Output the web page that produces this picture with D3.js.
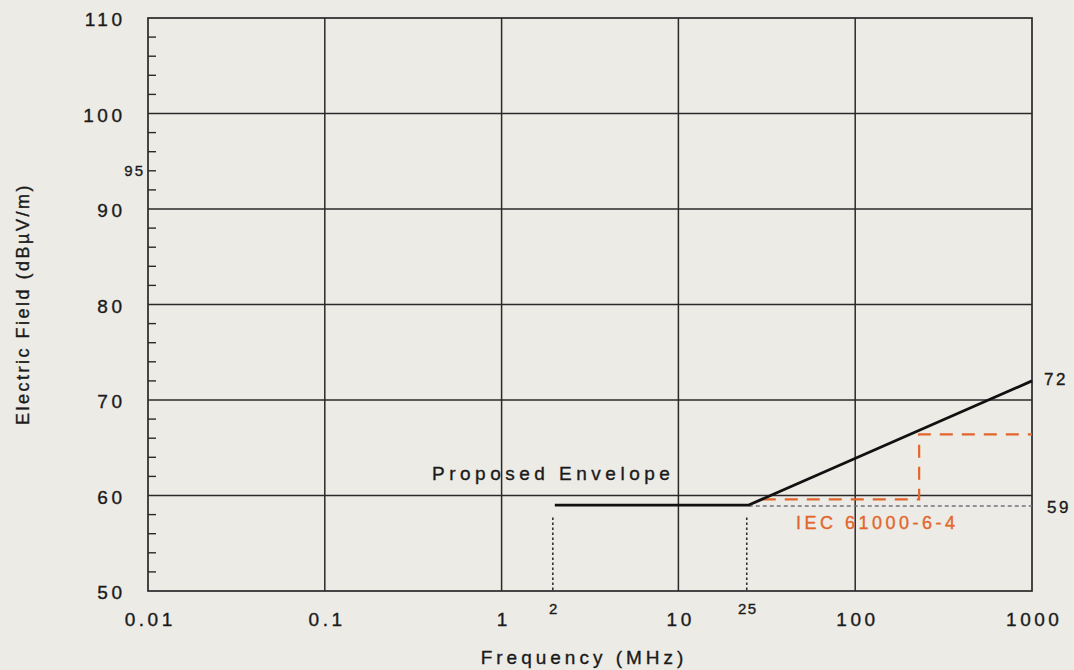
<!DOCTYPE html>
<html>
<head>
<meta charset="utf-8">
<script src="https://cdn.jsdelivr.net/npm/d3@7"></script>
<style>
  html, body { margin: 0; padding: 0; background: #ecebe6; }
  svg { display: block; }
  text { font-family: "Liberation Sans", Arial, Helvetica, sans-serif; fill: #1a1a1a; stroke: #1a1a1a; stroke-width: 0.35px; }
</style>
</head>
<body>
<svg id="chart" width="1074" height="670"></svg>
<script>
// ---- data ----
const xTickValues = [0.01, 0.1, 1, 10, 100, 1000];
const xTickLabels = ["0.01", "0.1", "1", "10", "100", "1000"];
const yTickValues = [50, 60, 70, 80, 90, 100, 110];
const yMinorTicks = [52, 54, 56, 58, 62, 64, 66, 68, 72, 74, 76, 78, 82, 84, 86, 88, 92, 94, 96, 98, 102, 104, 106, 108];
const envelopeFreq = [2, 25, 1000];
const envelopeLevel = [59, 59, 72];
const iecFreq = [30, 230, 230, 1000];
const iecLevel = [59.6, 59.6, 66.4, 66.4];
const refFreq = [25, 1000];
const refLevel = [58.9, 58.9];
const markerFreq = [2, 25];
const markerLabels = ["2", "25"];
const markerLow = 50.1, markerHigh = 57.7;
const extraYLabel = { value: 94, text: "95" };
const endLabels = [{ value: 72, text: "72" }, { value: 58.6, text: "59" }];

// ---- layout ----
const svg = d3.select("#chart");
const L = 148, R = 1032, T = 18, B = 591;
const x = d3.scaleLog().domain([0.01, 1000]).range([L, R]);
const y = d3.scaleLinear().domain([50, 110]).range([B, T]);
const ink = "#2a2a2a";

// gridlines
const grid = svg.append("g");
grid.selectAll("line.v").data(xTickValues.slice(1, -1)).join("line")
  .attr("x1", d => x(d)).attr("x2", d => x(d)).attr("y1", T).attr("y2", B)
  .attr("stroke", ink).attr("stroke-width", 1.5);
grid.selectAll("line.h").data(yTickValues.slice(1, -1)).join("line")
  .attr("x1", L).attr("x2", R).attr("y1", d => y(d)).attr("y2", d => y(d))
  .attr("stroke", ink).attr("stroke-width", 1.5);

// frame
svg.append("rect").attr("x", L).attr("y", T).attr("width", R - L).attr("height", B - T)
  .attr("fill", "none").attr("stroke", ink).attr("stroke-width", 1.7);

// minor ticks (inward)
svg.append("g").selectAll("line").data(yMinorTicks).join("line")
  .attr("x1", L).attr("x2", L + 8).attr("y1", d => y(d)).attr("y2", d => y(d))
  .attr("stroke", ink).attr("stroke-width", 1.4);

// y axis labels
const ls = 3.5;
const yAxis = d3.axisLeft(y).tickValues(yTickValues).tickSize(0).tickPadding(0);
const gy = svg.append("g").attr("transform", `translate(${122 + ls},1)`).call(yAxis);
gy.select(".domain").remove();
gy.selectAll("text").attr("font-size", 19).attr("letter-spacing", ls)
  .attr("dy", "0.36em").attr("fill", "#1a1a1a")
  .style("font-family", '"Liberation Sans", Arial, sans-serif');

// x axis labels
const xAxis = d3.axisBottom(x).tickValues(xTickValues).tickFormat((d, i) => xTickLabels[i]).tickSize(0).tickPadding(0);
const gx = svg.append("g").attr("transform", `translate(${ls / 2},619)`).call(xAxis);
gx.select(".domain").remove();
gx.selectAll("text").attr("font-size", 19).attr("letter-spacing", ls)
  .attr("dy", "0.36em").attr("fill", "#1a1a1a")
  .style("font-family", '"Liberation Sans", Arial, sans-serif');

// extra "95" label
svg.append("text").attr("x", 143 + 2).attr("y", y(extraYLabel.value) + 1)
  .attr("text-anchor", "end").attr("dominant-baseline", "middle")
  .attr("font-size", 15).attr("letter-spacing", 2).text(extraYLabel.text);

// axis titles
svg.append("text").attr("x", 584).attr("y", 664)
  .attr("text-anchor", "middle").attr("font-size", 19).attr("letter-spacing", 4)
  .text("Frequency (MHz)");
svg.append("text").attr("transform", "translate(29,304) rotate(-90)")
  .attr("text-anchor", "middle").attr("font-size", 18).attr("letter-spacing", 2.5)
  .text("Electric Field (dBµV/m)");

// marker verticals (dotted)
svg.append("g").selectAll("line").data(markerFreq).join("line")
  .attr("x1", d => x(d) - 2).attr("x2", d => x(d) - 2)
  .attr("y1", y(markerHigh)).attr("y2", y(markerLow))
  .attr("stroke", "#333").attr("stroke-width", 1.6).attr("stroke-dasharray", "2.5,2.5");
svg.append("g").selectAll("text").data(markerFreq).join("text")
  .attr("x", d => x(d) - 1).attr("y", 614)
  .attr("text-anchor", "middle").attr("font-size", 15).attr("letter-spacing", 1.5)
  .text((d, i) => markerLabels[i]);

const line = d3.line().x(d => x(d[0])).y(d => y(d[1]));

// gray dotted reference at 59
svg.append("path").datum(refFreq.map((f, i) => [f, refLevel[i]]))
  .attr("d", line).attr("fill", "none").attr("stroke", "#6f7480")
  .attr("stroke-width", 1.5).attr("stroke-dasharray", "4,3");

// IEC orange dashed
svg.append("path").datum(iecFreq.map((f, i) => [f, iecLevel[i]]))
  .attr("d", line).attr("fill", "none").attr("stroke", "#e2662c")
  .attr("stroke-width", 2.2).attr("stroke-dasharray", "13,9");

// proposed envelope
svg.append("path").datum(envelopeFreq.map((f, i) => [f, envelopeLevel[i]]))
  .attr("d", line).attr("fill", "none").attr("stroke", "#111")
  .attr("stroke-width", 2.8).attr("stroke-linejoin", "round");

// annotations
svg.append("text").attr("x", 432).attr("y", 480)
  .attr("font-size", 19).attr("letter-spacing", 4.5).text("Proposed Envelope");
svg.append("text").attr("x", 796).attr("y", 529)
  .attr("font-size", 18).attr("letter-spacing", 3.5).style("fill", "#e2662c").style("stroke", "#e2662c")
  .text("IEC 61000-6-4");
svg.append("g").selectAll("text").data(endLabels).join("text")
  .attr("x", (d, i) => i === 0 ? 1044 : 1047).attr("y", d => y(d.value))
  .attr("dominant-baseline", "middle").attr("font-size", 17).attr("letter-spacing", 2.5)
  .text(d => d.text);
</script>
</body>
</html>
